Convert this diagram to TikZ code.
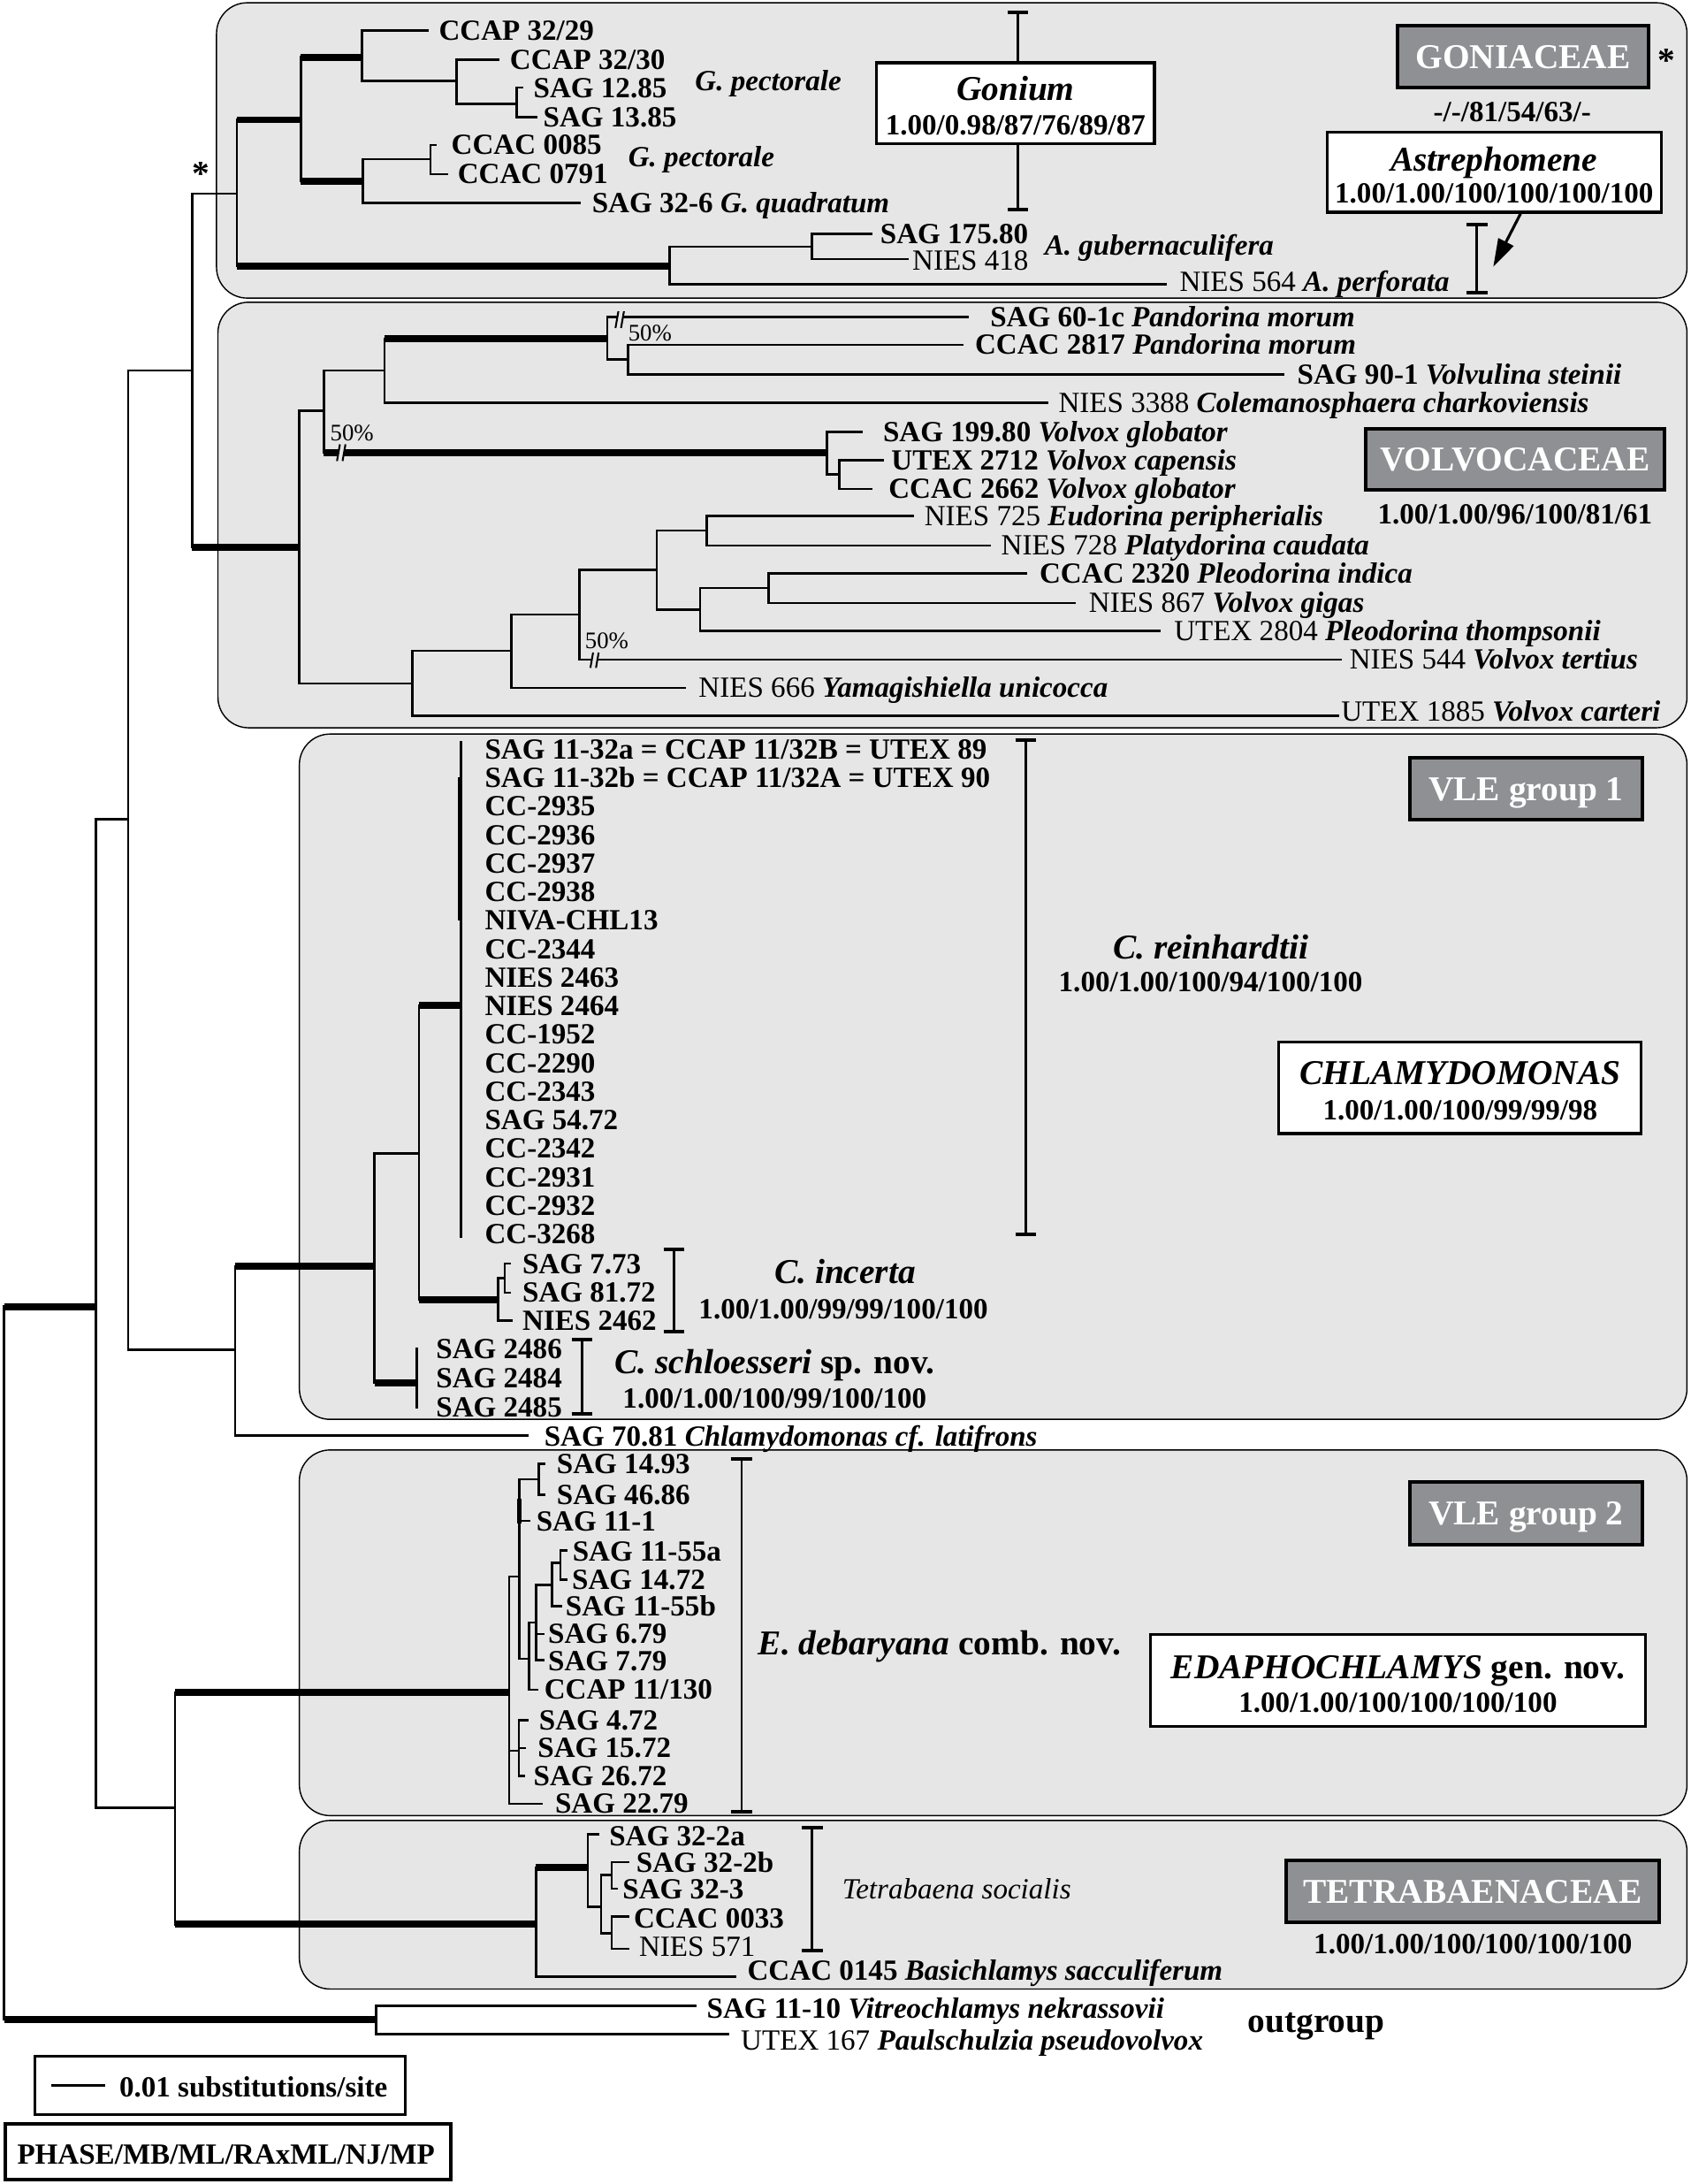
\documentclass[tikz,border=0pt]{standalone}
\usepackage{fontspec}
\setmainfont{Liberation Serif}
\usetikzlibrary{arrows.meta}
\definecolor{boxbg}{RGB}{230,230,230}
\definecolor{lblbg}{RGB}{143,144,147}
\newcommand\fsz[1]{\fontsize{#1}{#1}\selectfont}
\newcommand\hb[3][br]{\draw[#1] (#2 |- #3) -- (#3);}
\newcommand\vb[3]{\draw[br] (#1 |- #2) -- (#1 |- #3);}
\newcommand\brkt[3]{\draw[brline] (#1,#2) -- (#1,#3);
  \draw[brcap] (#1-7.5,#2) -- (#1+7.5,#2);
  \draw[brcap] (#1-7.5,#3) -- (#1+7.5,#3);}
\newcommand\brkmark[3]{%
  \fill[boxbg] (#1,#2+#3) -- (#1+#3*0.35,#2-#3) -- (#1+#3*0.35+4,#2-#3) -- (#1+4,#2+#3) -- cycle;
  \draw[line width=1.3pt] (#1,#2+#3) -- (#1+#3*0.35,#2-#3) (#1+4,#2+#3) -- (#1+#3*0.35+4,#2-#3);}
\begin{document}
\begin{tikzpicture}[x=1pt,y=-1pt,
  br/.style={line width=1.6pt,line cap=rect},
  tk/.style={line width=5pt},
  lab/.style={anchor=west,inner sep=0pt,text height=13.9pt,text depth=0pt,font=\fsz{21}\bfseries},
  labr/.style={lab,font=\fsz{21}},
  grp/.style={anchor=west,inner sep=0pt,text height=16.5pt,text depth=0pt,font=\fsz{25}\bfseries},
  grpc/.style={grp,anchor=center},
  supv/.style={anchor=center,inner sep=0pt,text height=13.9pt,text depth=0pt,font=\fsz{21}\bfseries},
  clade/.style={draw=black,line width=0.9pt,fill=boxbg,rounded corners=22pt},
  dbox/.style={draw=black,line width=2.5pt,fill=lblbg,text=white,inner sep=0pt,font=\fsz{25}\bfseries,text height=16.5pt,text depth=0pt},
  wbox/.style={draw=black,line width=2pt,fill=white,inner sep=0pt},
  brline/.style={line width=1.6pt},
  brcap/.style={line width=2.5pt},
  pct/.style={anchor=west,inner sep=0pt,text height=11.3pt,text depth=0pt,font=\fsz{17}},
]
\useasboundingbox (0,0) rectangle (1214,1568);
\fill[white] (0,0) rectangle (1214,1568);

% ---------- clade boxes ----------
\draw[clade] (155.5,2) rectangle (1211.5,214);
\draw[clade] (156.5,217) rectangle (1211.5,522.5);
\draw[clade] (215,527) rectangle (1211.5,1019);
\draw[clade] (215,1041) rectangle (1211.5,1303.5);
\draw[clade] (215,1307) rectangle (1211.5,1428);

% ---------- coordinates ----------
\coordinate (R) at (3,938);
\coordinate (N1) at (69,938);
\coordinate (O) at (270,1450);
\coordinate (N2) at (92,588);
\coordinate (N5) at (125.6,1298);
\coordinate (N3) at (138,266);
\coordinate (N4) at (169,969);
\coordinate (G) at (170,139);
\coordinate (V) at (215,393);
% Goniaceae
\coordinate (Gon) at (216,86);
\coordinate (F) at (481,191);
\coordinate (A) at (260,41);
\coordinate (D) at (260.5,130);
\coordinate (t1) at (307,22);
\coordinate (B) at (328,58);
\coordinate (t2) at (358,43);
\coordinate (C) at (371,74.5);
\coordinate (t3) at (375,63);
\coordinate (t4) at (385,84);
\coordinate (E) at (309,114.3);
\coordinate (t7) at (416,145.6);
\coordinate (t5) at (313,104);
\coordinate (t6) at (321,125);
\coordinate (H) at (583,177);
\coordinate (t10) at (837,204);
\coordinate (t8) at (626,168);
\coordinate (t9) at (652,186);
% Volvocaceae
\coordinate (V1) at (232.5,295);
\coordinate (V3) at (296.3,490.6);
\coordinate (V2) at (276,266);
\coordinate (W) at (594,325);
\coordinate (P) at (436,243);
\coordinate (v4) at (752,289);
\coordinate (v1) at (695,227.5);
\coordinate (Q) at (451,258);
\coordinate (v2) at (691,247.6);
\coordinate (v3) at (921.6,268.8);
\coordinate (v5) at (618.5,310);
\coordinate (X) at (602.7,340.7);
\coordinate (v6) at (634,330.5);
\coordinate (v7) at (626,351);
\coordinate (V4) at (367.4,467.3);
\coordinate (v15) at (961,513.9);
\coordinate (V5) at (416,441.3);
\coordinate (v14) at (491.8,493.8);
\coordinate (V6) at (471.6,409);
\coordinate (v13) at (963,473.5);
\coordinate (V7) at (507.4,381);
\coordinate (V8) at (502.7,437.7);
\coordinate (v8) at (655.9,370.4);
\coordinate (v9) at (711,391.6);
\coordinate (V9) at (552,422.3);
\coordinate (v12) at (833,453);
\coordinate (v10) at (736.6,411.7);
\coordinate (v11) at (772,432.8);
% VLE group 1
\coordinate (CH) at (269,909);
\coordinate (s70) at (379,1030.7);
\coordinate (CR) at (301,828);
\coordinate (CS) at (299.4,992.6);
\coordinate (Crein) at (331,722);
\coordinate (CI) at (357.7,933);
\coordinate (CI2) at (362.4,917.5);
\coordinate (ci3) at (367.4,948.2);
\coordinate (ci1) at (366,907);
\coordinate (ci2) at (366,928);
\coordinate (crtop) at (331,533);
\coordinate (crbot) at (331,888);
\coordinate (cstop) at (299.4,968.3);
\coordinate (csbot) at (299.4,1010.6);
% VLE group 2
\coordinate (Ed) at (365.5,1215.3);
\coordinate (T) at (385,1381.6);
\coordinate (E2) at (373,1132);
\coordinate (E6) at (372.5,1257);
\coordinate (e13) at (389,1295);
\coordinate (E21) at (387,1062);
\coordinate (e3) at (380,1092);
\coordinate (E22) at (380,1191);
\coordinate (e1) at (391,1051);
\coordinate (e2) at (391,1073);
\coordinate (E23) at (385,1165);
\coordinate (e9) at (386,1213);
\coordinate (E24) at (396.6,1138);
\coordinate (e7) at (390,1173);
\coordinate (e8) at (390,1192);
\coordinate (E25) at (402.4,1122);
\coordinate (e6) at (403,1153);
\coordinate (e4) at (407,1113);
\coordinate (e5) at (407,1134);
\coordinate (e10) at (379,1235);
\coordinate (e11) at (377,1255);
\coordinate (e12) at (376,1275);
% Tetrabaenaceae
\coordinate (T1) at (422,1340.8);
\coordinate (tb6) at (528,1419);
\coordinate (tb1) at (429.6,1317);
\coordinate (T2) at (431.6,1368.9);
\coordinate (T3) at (439.4,1346);
\coordinate (T4) at (439.4,1388);
\coordinate (tb2) at (451,1337);
\coordinate (tb3) at (443,1356);
\coordinate (tb4) at (451,1376);
\coordinate (tb5) at (451,1399);
% outgroup
\coordinate (o1) at (499.6,1440.2);
\coordinate (o2) at (523,1460.3);

% ---------- branches ----------
\vb{R}{N1}{O} \hb[tk]{R}{N1} \hb[tk]{R}{O}
\vb{N1}{N2}{N5} \hb{N1}{N2} \hb{N1}{N5}
\vb{N2}{N3}{N4} \hb{N2}{N3} \hb{N2}{N4}
\vb{N3}{G}{V} \hb{N3}{G} \hb[tk]{N3}{V}
% Goniaceae
\vb{G}{Gon}{F} \hb[tk]{G}{Gon} \hb[tk]{G}{F}
\vb{Gon}{A}{D} \hb[tk]{Gon}{A} \hb[tk]{Gon}{D}
\vb{A}{t1}{B} \hb{A}{t1} \hb{A}{B}
\vb{B}{t2}{C} \hb{B}{t2} \hb{B}{C}
\vb{C}{t3}{t4} \hb{C}{t3} \hb{C}{t4}
\vb{D}{E}{t7} \hb{D}{E} \hb{D}{t7}
\vb{E}{t5}{t6} \hb{E}{t5} \hb{E}{t6}
\vb{F}{H}{t10} \hb{F}{H} \hb{F}{t10}
\vb{H}{t8}{t9} \hb{H}{t8} \hb{H}{t9}
% Volvocaceae
\vb{V}{V1}{V3} \hb{V}{V1} \hb{V}{V3}
\vb{V1}{V2}{W} \hb{V1}{V2} \hb[tk]{V1}{W}
\vb{V2}{P}{v4} \hb[tk]{V2}{P} \hb{V2}{v4}
\vb{P}{v1}{Q} \hb{P}{v1} \hb{P}{Q}
\vb{Q}{v2}{v3} \hb{Q}{v2} \hb{Q}{v3}
\vb{W}{v5}{X} \hb{W}{v5} \hb{W}{X}
\vb{X}{v6}{v7} \hb{X}{v6} \hb{X}{v7}
\vb{V3}{V4}{v15} \hb{V3}{V4} \hb{V3}{v15}
\vb{V4}{V5}{v14} \hb{V4}{V5} \hb{V4}{v14}
\vb{V5}{V6}{v13} \hb{V5}{V6} \hb{V5}{v13}
\vb{V6}{V7}{V8} \hb{V6}{V7} \hb{V6}{V8}
\vb{V7}{v8}{v9} \hb{V7}{v8} \hb{V7}{v9}
\vb{V8}{V9}{v12} \hb{V8}{V9} \hb{V8}{v12}
\vb{V9}{v10}{v11} \hb{V9}{v10} \hb{V9}{v11}
\brkmark{442}{229.5}{6}
\brkmark{242}{325}{6}
\brkmark{424}{474}{5.5}
\node[pct] (p1) at (451,239) {50\%};
\node[pct] (p2) at (237,311) {50\%};
\node[pct] (p3) at (420,460) {50\%};
% VLE group 1
\vb{N4}{CH}{s70} \hb[tk]{N4}{CH} \hb{N4}{s70}
\vb{CH}{CR}{CS} \hb{CH}{CR} \hb[tk]{CH}{CS}
\vb{CR}{Crein}{CI} \hb[tk]{CR}{Crein} \hb[tk]{CR}{CI}
\draw[br] (crtop) -- (crbot);
\draw[line width=3pt] (330.5,558) -- (330.5,661);
\vb{CI}{CI2}{ci3} \hb{CI}{CI2} \hb{CI}{ci3}
\vb{CI2}{ci1}{ci2} \hb{CI2}{ci1} \hb{CI2}{ci2}
\draw[br] (cstop) -- (csbot);
% VLE group 2
\vb{N5}{Ed}{T} \hb[tk]{N5}{Ed} \hb[tk]{N5}{T}
\vb{Ed}{E2}{e13} \hb{Ed}{E2} \hb{Ed}{E6} \hb{Ed}{e13}
\vb{E2}{E21}{E22} \hb{E2}{E21} \hb{E2}{e3} \hb{E2}{E22}
\draw[line width=3pt] (373,1076) -- (373,1094);
\vb{E21}{e1}{e2} \hb{E21}{e1} \hb{E21}{e2}
\vb{E22}{E23}{e9} \hb{E22}{E23} \hb{E22}{e9}
\vb{E23}{E24}{e8} \hb{E23}{E24} \hb{E23}{e7} \hb{E23}{e8}
\vb{E24}{E25}{e6} \hb{E24}{E25} \hb{E24}{e6}
\vb{E25}{e4}{e5} \hb{E25}{e4} \hb{E25}{e5}
\vb{E6}{e10}{e12} \hb{E6}{e10} \hb{E6}{e11} \hb{E6}{e12}
% Tetrabaenaceae
\vb{T}{T1}{tb6} \hb[tk]{T}{T1} \hb{T}{tb6}
\vb{T1}{tb1}{T2} \hb{T1}{tb1} \hb{T1}{T2}
\vb{T2}{T3}{T4} \hb{T2}{T3} \hb{T2}{T4}
\vb{T3}{tb2}{tb3} \hb{T3}{tb2} \hb{T3}{tb3}
\vb{T4}{tb4}{tb5} \hb{T4}{tb4} \hb{T4}{tb5}
% outgroup
\vb{O}{o1}{o2} \hb{O}{o1} \hb{O}{o2}

% ---------- leaf labels: Goniaceae ----------
\node[lab] (l1) at (315,22) {CCAP 32/29};
\node[lab] (l2) at (366,43) {CCAP 32/30};
\node[lab] (l3) at (383,63) {SAG 12.85};
\node[lab] (l4) at (390,84) {SAG 13.85};
\node[lab] (l5) at (324,104) {CCAC 0085};
\node[lab] (l6) at (328.5,125) {CCAC 0791};
\node[lab] (l7) at (425,146) {SAG 32-6 \textit{G. quadratum}};
\node[lab] (gp1) at (499,58) {\textit{G. pectorale}};
\node[lab] (gp2) at (451,113) {\textit{G. pectorale}};
\node[lab] (l8) at (632,168) {SAG 175.80};
\node[labr] (l9) at (655,187) {NIES 418};
\node[lab] (agub) at (750,176) {\textit{A. gubernaculifera}};
\node[labr] (l10) at (847,202.5) {NIES 564 \textbf{\textit{A. perforata}}};

% Gonium annotation
\brkt{731}{9}{150.7}
\node[wbox,minimum width=199.5pt,minimum height=58.3pt] (gonbox) at (729.3,74.2) {};
\node[grpc] (gont) at (729.3,63.5) {\textit{Gonium}};
\node[supv] (gons) at (729.3,90) {1.00/0.98/87/76/89/87};
\node[dbox,minimum width=180.7pt,minimum height=44.4pt] (goni) at (1093.8,40.8) {GONIACEAE};
\node[inner sep=0pt,font=\fsz{25}\bfseries] (ast2) at (1197,43.5) {*};
\node[inner sep=0pt,font=\fsz{25}\bfseries] (ast1) at (144.6,125) {*};
\node[supv] (gonisup) at (1086,80.4) {-/-/81/54/63/-};
\node[wbox,minimum width=240pt,minimum height=57.6pt] (astbox) at (1073,123.6) {};
\node[grpc] (astt) at (1073,114.3) {\textit{Astrephomene}};
\node[supv] (asts) at (1073,138.6) {1.00/1.00/100/100/100/100};
\brkt{1060.6}{161}{210}
\coordinate (arrtip) at (1072.4,191.5);
\draw[line width=2pt,-{Triangle[length=20pt,width=12pt]}] ([xshift=19pt]astbox.south) -- (arrtip);

% ---------- Volvocaceae labels ----------
\node[lab] (lv1) at (711,227.5) {SAG 60-1c \textit{Pandorina morum}};
\node[lab] (lv2) at (700,247.6) {CCAC 2817 \textit{Pandorina morum}};
\node[lab] (lv3) at (931.5,268.8) {SAG 90-1 \textit{Volvulina steinii}};
\node[labr] (lv4) at (760,289) {NIES 3388 \textbf{\textit{Colemanosphaera charkoviensis}}};
\node[lab] (lv5) at (634,310) {SAG 199.80 \textit{Volvox globator}};
\node[lab] (lv6) at (640,330.5) {UTEX 2712 \textit{Volvox capensis}};
\node[lab] (lv7) at (638,351) {CCAC 2662 \textit{Volvox globator}};
\node[labr] (lv8) at (663.7,370.4) {NIES 725 \textbf{\textit{Eudorina peripherialis}}};
\node[labr] (lv9) at (718.8,391.6) {NIES 728 \textbf{\textit{Platydorina caudata}}};
\node[lab] (lv10) at (746.4,411.7) {CCAC 2320 \textit{Pleodorina indica}};
\node[labr] (lv11) at (781.8,432.8) {NIES 867 \textbf{\textit{Volvox gigas}}};
\node[labr] (lv12) at (843,453) {UTEX 2804 \textbf{\textit{Pleodorina thompsonii}}};
\node[labr] (lv13) at (969,473) {NIES 544 \textbf{\textit{Volvox tertius}}};
\node[labr] (lv14) at (501.6,493.8) {NIES 666 \textbf{\textit{Yamagishiella unicocca}}};
\node[labr] (lv15) at (963,511) {UTEX 1885 \textbf{\textit{Volvox carteri}}};
\node[dbox,minimum width=214.5pt,minimum height=43.4pt] (volv) at (1088,329.7) {VOLVOCACEAE};
\node[supv] (volvs) at (1088,369.3) {1.00/1.00/96/100/81/61};

% ---------- VLE group 1 labels ----------
\foreach \nm [count=\i from 0] in {SAG 11-32a = CCAP 11/32B = UTEX 89, SAG 11-32b = CCAP 11/32A = UTEX 90, CC-2935, CC-2936, CC-2937, CC-2938, NIVA-CHL13, CC-2344, NIES 2463, NIES 2464, CC-1952, CC-2290, CC-2343, SAG 54.72, CC-2342, CC-2931, CC-2932, CC-3268}
  \node[lab] (cr\i) at (348,538+20.47*\i) {\nm};
\node[lab] (lci1) at (375,907.5) {SAG 7.73};
\node[lab] (lci2) at (375,928) {SAG 81.72};
\node[lab] (lci3) at (375,948.2) {NIES 2462};
\node[lab] (lcs1) at (313,968.3) {SAG 2486};
\node[lab] (lcs2) at (313,989.5) {SAG 2484};
\node[lab] (lcs3) at (313,1010.6) {SAG 2485};
\node[lab] (l70) at (390.7,1031) {SAG 70.81 \textit{Chlamydomonas cf. latifrons}};
\brkt{736.6}{531.6}{886.2}
\node[grpc] (crein) at (869.5,680.4) {\textit{C. reinhardtii}};
\node[supv] (creins) at (869.4,704.7) {1.00/1.00/100/94/100/100};
\brkt{484}{897}{956}
\node[grp] (cinc) at (556,913) {\textit{C. incerta}};
\node[lab] (cincs) at (501.6,939.7) {1.00/1.00/99/99/100/100};
\brkt{418}{962}{1015}
\node[grp] (csch) at (441.3,977.8) {\textit{C. schloesseri} sp. nov.};
\node[lab] (cschs) at (447,1004.3) {1.00/1.00/100/99/100/100};
\node[dbox,minimum width=167.3pt,minimum height=44pt] (vle1) at (1095.9,566.3) {VLE group 1};
\node[wbox,minimum width=260.2pt,minimum height=65.8pt] (chlbox) at (1048.6,780.9) {};
\node[grpc] (chlt) at (1048.6,770.3) {\textit{CHLAMYDOMONAS}};
\node[supv] (chls) at (1048.6,796.9) {1.00/1.00/100/99/99/98};

% ---------- VLE group 2 labels ----------
\node[lab] (le1) at (399.7,1051) {SAG 14.93};
\node[lab] (le2) at (399.7,1073) {SAG 46.86};
\node[lab] (le3) at (385,1092) {SAG 11-1};
\node[lab] (le4) at (411,1113.5) {SAG 11-55a};
\node[lab] (le5) at (410.6,1134) {SAG 14.72};
\node[lab] (le6) at (406,1153) {SAG 11-55b};
\node[lab] (le7) at (393.5,1173) {SAG 6.79};
\node[lab] (le8) at (393.5,1192.5) {SAG 7.79};
\node[lab] (le9) at (390.7,1213) {CCAP 11/130};
\node[lab] (le10) at (387,1235) {SAG 4.72};
\node[lab] (le11) at (386,1255) {SAG 15.72};
\node[lab] (le12) at (383,1275) {SAG 26.72};
\node[lab] (le13) at (398.5,1294.5) {SAG 22.79};
\brkt{532.7}{1047.7}{1300.6}
\node[grp] (edeb) at (544.3,1180) {\textit{E. debaryana} comb. nov.};
\node[dbox,minimum width=167.3pt,minimum height=44.8pt] (vle2) at (1095.9,1086.6) {VLE group 2};
\node[wbox,minimum width=355.2pt,minimum height=65.6pt] (edbox) at (1003.9,1206.4) {};
\node[grpc] (edt) at (1003.9,1197) {\textit{EDAPHOCHLAMYS} gen. nov.};
\node[supv] (eds) at (1003.9,1222.3) {1.00/1.00/100/100/100/100};

% ---------- Tetrabaenaceae labels ----------
\node[lab] (ltb1) at (437.4,1318.5) {SAG 32-2a};
\node[lab] (ltb2) at (456.8,1337) {SAG 32-2b};
\node[lab] (ltb3) at (447,1356) {SAG 32-3};
\node[lab] (ltb4) at (455,1377.5) {CCAC 0033};
\node[labr] (ltb5) at (458.8,1397.5) {NIES 571};
\node[lab] (ltb6) at (536.6,1414.5) {CCAC 0145 \textit{Basichlamys sacculiferum}};
\brkt{583.2}{1312}{1400.6}
\node[labr] (tsoc) at (604.7,1356.2) {\textit{Tetrabaena socialis}};
\node[dbox,minimum width=267.7pt,minimum height=44.4pt] (tetra) at (1057.5,1358.1) {TETRABAENACEAE};
\node[supv] (tetras) at (1057.8,1395.8) {1.00/1.00/100/100/100/100};

% ---------- outgroup ----------
\node[lab] (lo1) at (507.4,1442) {SAG 11-10 \textit{Vitreochlamys nekrassovii}};
\node[labr] (lo2) at (531.9,1465) {UTEX 167 \textbf{\textit{Paulschulzia pseudovolvox}}};
\node[grp] (outg) at (896,1450.8) {outgroup};

% ---------- legend ----------
\node[draw=black,line width=2pt,minimum width=265.5pt,minimum height=41.7pt,inner sep=0pt] (leg1) at (158.05,1497.05) {};
\coordinate (sb1) at (37,1497.4);
\coordinate (sb2) at (75.8,1497.4);
\draw[line width=2pt] (sb1) -- (sb2);
\node[lab] (legt) at (85.5,1498.4) {0.01 substitutions/site};
\node[draw=black,line width=2.5pt,minimum width=320pt,minimum height=40.2pt,inner sep=0pt] (leg2) at (163.9,1545) {};
\node[supv] (legm) at (162.3,1547) {PHASE/MB/ML/RAxML/NJ/MP};
\end{tikzpicture}
\end{document}
